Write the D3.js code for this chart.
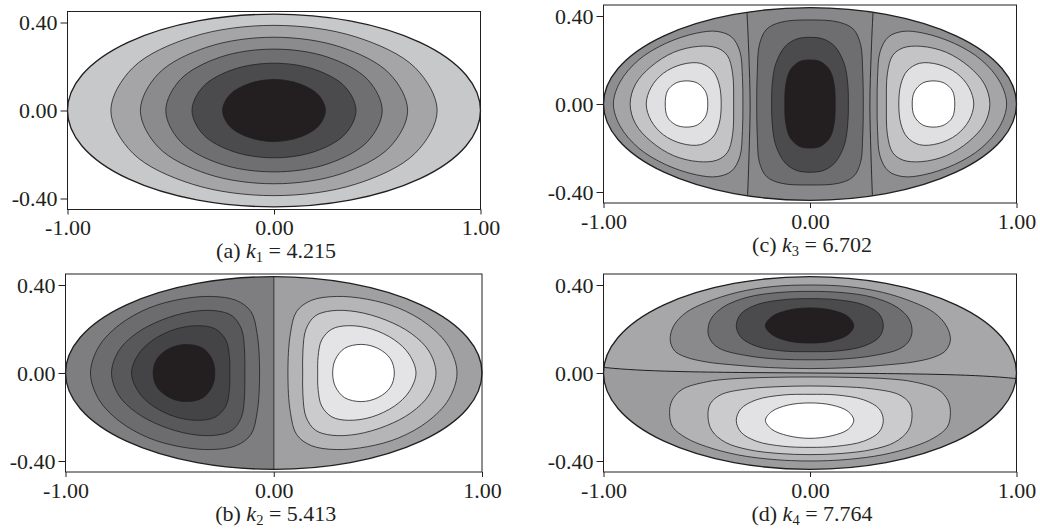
<!DOCTYPE html>
<html>
<head>
<meta charset="utf-8">
<script src="https://cdn.jsdelivr.net/npm/d3@7"></script>
<style>
body { margin: 0; background: #fff; }
text { font-family: "Liberation Serif", "Times New Roman", serif; fill: #231f20; }
</style>
</head>
<body>
<svg id="chart" width="1040" height="532"></svg>
<script>
// ---- data (x, y in plot units) ----
var xTicks = [-1, 0, 1];
var xTickLabels = ["-1.00", "0.00", "1.00"];
var yTicks = [-0.4, 0, 0.4];
var yTickLabels = ["-0.40", "0.00", "0.40"];
var boundaryAxes = [1.0, 0.438];

var captionLetters = ["a", "b", "c", "d"];
var kIndex = ["1", "2", "3", "4"];
var kValues = ["4.215", "5.413", "6.702", "7.764"];

// (a) nested contours, outer -> inner
var aContours = [
  [[-0.79,0],[-0.684,0.194],[-0.395,0.335],[0,0.387],[0.395,0.335],[0.684,0.194],[0.79,0],[0.684,-0.194],[0.395,-0.335],[0,-0.387],[-0.395,-0.335],[-0.684,-0.194]],
  [[-0.647,0],[-0.56,0.167],[-0.324,0.288],[0,0.333],[0.324,0.288],[0.56,0.167],[0.647,0],[0.56,-0.167],[0.324,-0.288],[0,-0.333],[-0.324,-0.288],[-0.56,-0.167]],
  [[-0.524,0],[-0.454,0.14],[-0.262,0.242],[0,0.279],[0.262,0.242],[0.454,0.14],[0.524,0],[0.454,-0.14],[0.262,-0.242],[0,-0.279],[-0.262,-0.242],[-0.454,-0.14]],
  [[-0.397,0],[-0.344,0.108],[-0.199,0.186],[0,0.215],[0.199,0.186],[0.344,0.108],[0.397,0],[0.344,-0.108],[0.199,-0.186],[0,-0.215],[-0.199,-0.186],[-0.344,-0.108]],
  [[-0.249,0],[-0.216,0.07],[-0.125,0.121],[0,0.141],[0.125,0.121],[0.216,0.07],[0.249,0],[0.216,-0.07],[0.125,-0.121],[0,-0.141],[-0.125,-0.121],[-0.216,-0.07]]
];
var aFills = ["#c7c8ca", "#a5a5a7", "#8b8b8d", "#6f6f71", "#4b4b4d", "#231f20"];

// (b) left (dark) lobe; the right (light) lobe is its mirror
var bLobe = [
  [[-0.88,0],[-0.84,0.12],[-0.74,0.22],[-0.6,0.295],[-0.45,0.335],[-0.3,0.348],[-0.18,0.33],[-0.11,0.28],[-0.08,0.18],[-0.068,0],
   [-0.08,-0.18],[-0.11,-0.28],[-0.18,-0.33],[-0.3,-0.348],[-0.45,-0.335],[-0.6,-0.295],[-0.74,-0.22],[-0.84,-0.12]],
  [[-0.779,0],[-0.745,0.1],[-0.66,0.18],[-0.54,0.24],[-0.4,0.278],[-0.28,0.283],[-0.2,0.26],[-0.155,0.2],[-0.14,0.1],[-0.139,0],
   [-0.14,-0.1],[-0.155,-0.2],[-0.2,-0.26],[-0.28,-0.283],[-0.4,-0.278],[-0.54,-0.24],[-0.66,-0.18],[-0.745,-0.1]],
  [[-0.683,0],[-0.65,0.085],[-0.58,0.15],[-0.47,0.2],[-0.36,0.215],[-0.28,0.2],[-0.23,0.15],[-0.213,0.075],[-0.211,0],
   [-0.213,-0.075],[-0.23,-0.15],[-0.28,-0.2],[-0.36,-0.215],[-0.47,-0.2],[-0.58,-0.15],[-0.65,-0.085]],
  [[-0.579,0],[-0.56,0.065],[-0.5,0.112],[-0.42,0.13],[-0.34,0.112],[-0.295,0.06],[-0.283,0],
   [-0.295,-0.06],[-0.34,-0.112],[-0.42,-0.13],[-0.5,-0.112],[-0.56,-0.065]]
];
var bZero = [[0, 0.47], [0, -0.47]];
var bFillsDark = ["#7e7e80", "#6c6c6e", "#58585a", "#444446", "#231f20"];
var bFillsLight = ["#a0a0a2", "#b5b5b7", "#cbcbcd", "#e4e4e6", "#ffffff"];

// (c) left (light) lobe, mirrored for the right one; centre (dark) strip
var cLobe = [
  [[-0.952,0],[-0.92,0.1],[-0.83,0.2],[-0.7,0.275],[-0.55,0.322],[-0.45,0.33],[-0.38,0.305],[-0.34,0.24],[-0.327,0.12],[-0.325,0],
   [-0.327,-0.12],[-0.34,-0.24],[-0.38,-0.305],[-0.45,-0.33],[-0.55,-0.322],[-0.7,-0.275],[-0.83,-0.2],[-0.92,-0.1]],
  [[-0.871,0],[-0.845,0.09],[-0.77,0.17],[-0.66,0.235],[-0.54,0.262],[-0.45,0.255],[-0.4,0.22],[-0.375,0.14],[-0.37,0],
   [-0.375,-0.14],[-0.4,-0.22],[-0.45,-0.255],[-0.54,-0.262],[-0.66,-0.235],[-0.77,-0.17],[-0.845,-0.09]],
  [[-0.793,0],[-0.77,0.075],[-0.71,0.14],[-0.62,0.18],[-0.53,0.185],[-0.47,0.15],[-0.44,0.09],[-0.43,0],
   [-0.44,-0.09],[-0.47,-0.15],[-0.53,-0.185],[-0.62,-0.18],[-0.71,-0.14],[-0.77,-0.075]],
  [[-0.701,0],[-0.69,0.06],[-0.65,0.095],[-0.6,0.105],[-0.545,0.095],[-0.505,0.055],[-0.495,0],
   [-0.505,-0.055],[-0.545,-0.095],[-0.6,-0.105],[-0.65,-0.095],[-0.69,-0.06]]
];
var cCentre = [
  [[-0.258,0],[-0.255,0.15],[-0.245,0.27],[-0.21,0.34],[-0.14,0.372],[0,0.382],[0.14,0.372],[0.21,0.34],[0.245,0.27],[0.255,0.15],[0.258,0],
   [0.255,-0.15],[0.245,-0.265],[0.21,-0.33],[0.14,-0.36],[0,-0.368],[-0.14,-0.36],[-0.21,-0.33],[-0.245,-0.265],[-0.255,-0.15]],
  [[-0.186,0],[-0.182,0.1],[-0.165,0.185],[-0.12,0.262],[-0.065,0.295],[0,0.303],[0.065,0.295],[0.12,0.262],[0.165,0.185],[0.182,0.1],[0.186,0],
   [0.182,-0.1],[0.165,-0.19],[0.12,-0.268],[0.065,-0.302],[0,-0.31],[-0.065,-0.302],[-0.12,-0.268],[-0.165,-0.19],[-0.182,-0.1]],
  [[-0.122,0],[-0.117,0.09],[-0.095,0.155],[-0.05,0.193],[0,0.2],[0.05,0.193],[0.095,0.155],[0.117,0.09],[0.122,0],
   [0.117,-0.09],[0.095,-0.155],[0.05,-0.193],[0,-0.2],[-0.05,-0.193],[-0.095,-0.155],[-0.117,-0.09]]
];
var cZero = [[-0.31,0.47],[-0.305,0.41],[-0.296,0.22],[-0.29,0],[-0.295,-0.22],[-0.302,-0.41],[-0.305,-0.47]];
var cFillsLobe = ["#8e8e90", "#a5a5a7", "#c4c4c6", "#e0e0e2", "#ffffff"];
var cFillsCentre = ["#88888a", "#6e6e70", "#4b4b4d", "#231f20"];

// (d) upper (dark) and lower (light) halves
var dUpper = [
  [[-0.677,0.15],[-0.66,0.215],[-0.6,0.275],[-0.5,0.322],[-0.35,0.367],[-0.18,0.393],[0,0.4],[0.18,0.393],[0.35,0.367],[0.5,0.322],[0.6,0.275],[0.66,0.215],[0.68,0.15],
   [0.655,0.1],[0.6,0.072],[0.5,0.05],[0.386,0.038],[0.2,0.025],[0,0.02],[-0.2,0.025],[-0.386,0.038],[-0.5,0.05],[-0.6,0.072],[-0.655,0.1]],
  [[-0.494,0.185],[-0.48,0.245],[-0.42,0.3],[-0.3,0.345],[-0.15,0.366],[0,0.371],[0.15,0.366],[0.3,0.345],[0.42,0.3],[0.48,0.245],[0.494,0.185],
   [0.475,0.14],[0.43,0.108],[0.3,0.078],[0.15,0.063],[0,0.06],[-0.15,0.063],[-0.3,0.078],[-0.43,0.108],[-0.475,0.14]],
  [[-0.357,0.215],[-0.335,0.268],[-0.26,0.31],[-0.13,0.333],[0,0.338],[0.13,0.333],[0.26,0.31],[0.335,0.268],[0.355,0.215],
   [0.335,0.163],[0.26,0.122],[0.13,0.1],[0,0.097],[-0.13,0.1],[-0.26,0.122],[-0.335,0.163]],
  [[-0.216,0.215],[-0.185,0.256],[-0.107,0.285],[0,0.296],[0.107,0.285],[0.185,0.256],[0.212,0.215],
   [0.185,0.175],[0.107,0.146],[0,0.136],[-0.107,0.146],[-0.185,0.175]]
];
var dLower = [
  [[-0.68,-0.18],[-0.668,-0.125],[-0.62,-0.075],[-0.5,-0.04],[-0.386,-0.027],[-0.2,-0.02],[0,-0.018],[0.2,-0.02],[0.386,-0.027],[0.5,-0.04],[0.62,-0.075],[0.668,-0.125],[0.68,-0.18],
   [0.665,-0.245],[0.6,-0.295],[0.5,-0.335],[0.35,-0.372],[0.18,-0.393],[0,-0.4],[-0.18,-0.393],[-0.35,-0.372],[-0.5,-0.335],[-0.6,-0.295],[-0.665,-0.245]],
  [[-0.494,-0.2],[-0.483,-0.14],[-0.43,-0.098],[-0.3,-0.072],[-0.15,-0.062],[0,-0.059],[0.15,-0.062],[0.3,-0.072],[0.43,-0.098],[0.483,-0.14],[0.494,-0.2],
   [0.475,-0.262],[0.41,-0.315],[0.3,-0.348],[0.15,-0.366],[0,-0.371],[-0.15,-0.366],[-0.3,-0.348],[-0.41,-0.315],[-0.475,-0.262]],
  [[-0.357,-0.215],[-0.335,-0.163],[-0.26,-0.122],[-0.13,-0.1],[0,-0.097],[0.13,-0.1],[0.26,-0.122],[0.335,-0.163],[0.355,-0.215],
   [0.335,-0.268],[0.26,-0.31],[0.13,-0.333],[0,-0.338],[-0.13,-0.333],[-0.26,-0.31],[-0.335,-0.268]],
  [[-0.216,-0.215],[-0.185,-0.175],[-0.107,-0.146],[0,-0.136],[0.107,-0.146],[0.185,-0.175],[0.212,-0.215],
   [0.185,-0.256],[0.107,-0.285],[0,-0.297],[-0.107,-0.285],[-0.185,-0.256]]
];
var dZero = [[-1.02,0.028],[-0.95,0.021],[-0.8,0.012],[-0.6,0.006],[-0.3,0.002],[0,0],[0.3,-0.002],[0.6,-0.006],[0.8,-0.012],[0.95,-0.021],[1.02,-0.028]];
var dFillsUpper = ["#a7a7a9", "#8a8a8c", "#6e6e70", "#4b4b4d", "#231f20"];
var dFillsLower = ["#9c9c9e", "#b3b3b5", "#cbcbcd", "#e2e2e4", "#ffffff"];

// ---- layout: [left, right, top, bottom] of each plot frame ----
var frameA = [67.5, 480.5, 11.5, 209.5];
var frameB = [65.5, 482, 274, 472];
var frameC = [603.5, 1016.5, 5, 203];
var frameD = [603.5, 1016.5, 274, 472];

var ink = "#231f20";
var fontSize = 22;
var svg = d3.select("#chart");
var defs = svg.append("defs");

function setupPanel(frame, id) {
  var x = d3.scaleLinear().domain([-1, 1]).range([frame[0], frame[1]]);
  var y = d3.scaleLinear().domain([-0.45, 0.45]).range([frame[3], frame[2]]);
  var g = svg.append("g");
  defs.append("clipPath").attr("id", "clip-" + id)
    .append("ellipse")
    .attr("cx", x(0)).attr("cy", y(0))
    .attr("rx", x(boundaryAxes[0]) - x(0))
    .attr("ry", y(0) - y(boundaryAxes[1]));
  var body = g.append("g").attr("clip-path", "url(#clip-" + id + ")");
  return {x: x, y: y, g: g, body: body, frame: frame};
}

function fillBackground(p, color) {
  p.body.append("rect")
    .attr("x", p.x(-1.05)).attr("y", p.y(0.5))
    .attr("width", p.x(1.05) - p.x(-1.05))
    .attr("height", p.y(-0.5) - p.y(0.5))
    .attr("fill", color);
}

function drawContours(p, list, fills, mirror) {
  var line = d3.line()
    .x(function (d) { return p.x(mirror ? -d[0] : d[0]); })
    .y(function (d) { return p.y(d[1]); })
    .curve(d3.curveCatmullRomClosed.alpha(0.5));
  list.forEach(function (pts, i) {
    p.body.append("path")
      .datum(pts)
      .attr("d", line)
      .attr("fill", fills[i + 1])
      .attr("stroke", ink)
      .attr("stroke-width", 0.8);
  });
}

function drawOpenLine(p, pts, mirror, color, width) {
  var line = d3.line()
    .x(function (d) { return p.x(mirror ? -d[0] : d[0]); })
    .y(function (d) { return p.y(d[1]); })
    .curve(d3.curveCatmullRom.alpha(0.5));
  p.body.append("path").datum(pts).attr("d", line)
    .attr("fill", "none").attr("stroke", color).attr("stroke-width", width);
}

function styleAxis(sel) {
  sel.select(".domain").remove();
  sel.attr("font-family", "'Liberation Serif', 'Times New Roman', serif").attr("font-size", fontSize);
  sel.selectAll("line").attr("stroke", ink);
  sel.selectAll("text").attr("fill", ink);
}

function finishPanel(p, idx) {
  var f = p.frame;
  p.g.append("ellipse")
    .attr("cx", p.x(0)).attr("cy", p.y(0))
    .attr("rx", p.x(boundaryAxes[0]) - p.x(0))
    .attr("ry", p.y(0) - p.y(boundaryAxes[1]))
    .attr("fill", "none").attr("stroke", ink).attr("stroke-width", 1.3);

  p.g.append("rect")
    .attr("x", f[0]).attr("y", f[2])
    .attr("width", f[1] - f[0]).attr("height", f[3] - f[2])
    .attr("fill", "none").attr("stroke", ink).attr("stroke-width", 1);

  p.g.append("g")
    .attr("transform", "translate(0," + f[3] + ")")
    .call(d3.axisBottom(p.x).tickValues(xTicks)
      .tickFormat(function (d, i) { return xTickLabels[i]; })
      .tickSize(5).tickPadding(5))
    .call(styleAxis);

  p.g.append("g")
    .attr("transform", "translate(" + f[0] + ",0)")
    .call(d3.axisLeft(p.y).tickValues(yTicks)
      .tickFormat(function (d, i) { return yTickLabels[i]; })
      .tickSize(7).tickPadding(3))
    .call(styleAxis);

  var cap = p.g.append("text")
    .attr("x", (f[0] + f[1]) / 2 + 2)
    .attr("y", f[3] + 48.5)
    .attr("text-anchor", "middle")
    .attr("font-size", fontSize);
  cap.append("tspan").text("(" + captionLetters[idx] + ") ");
  cap.append("tspan").attr("font-style", "italic").text("k");
  cap.append("tspan").attr("font-size", 14.5).attr("dy", 4).text(kIndex[idx]);
  cap.append("tspan").attr("dy", -4).text(" = " + kValues[idx]);
}

// (a)
var pA = setupPanel(frameA, "a");
fillBackground(pA, aFills[0]);
drawContours(pA, aContours, aFills, false);
finishPanel(pA, 0);

// (b)
var pB = setupPanel(frameB, "b");
fillBackground(pB, bFillsLight[0]);
pB.body.append("path").datum(bZero)
  .attr("d", d3.area()
    .y(function (d) { return pB.y(d[1]); })
    .x0(pB.x(-1.05))
    .x1(function (d) { return pB.x(d[0]); }))
  .attr("fill", bFillsDark[0]);
drawContours(pB, bLobe, bFillsDark, false);
drawContours(pB, bLobe, bFillsLight, true);
drawOpenLine(pB, bZero, false, "#4d4d4f", 1.4);
finishPanel(pB, 1);

// (c)
var pC = setupPanel(frameC, "c");
fillBackground(pC, cFillsLobe[0]);
pC.body.append("path").datum(cZero)
  .attr("d", d3.area()
    .curve(d3.curveCatmullRom.alpha(0.5))
    .y(function (d) { return pC.y(d[1]); })
    .x0(function (d) { return pC.x(d[0]); })
    .x1(function (d) { return pC.x(-d[0]); }))
  .attr("fill", cFillsCentre[0]);
drawContours(pC, cLobe, cFillsLobe, false);
drawContours(pC, cLobe, cFillsLobe, true);
drawContours(pC, cCentre, cFillsCentre, false);
drawOpenLine(pC, cZero, false, ink, 0.9);
drawOpenLine(pC, cZero, true, ink, 0.9);
finishPanel(pC, 2);

// (d)
var pD = setupPanel(frameD, "d");
fillBackground(pD, dFillsLower[0]);
pD.body.append("path").datum(dZero)
  .attr("d", d3.area()
    .curve(d3.curveCatmullRom.alpha(0.5))
    .x(function (d) { return pD.x(d[0]); })
    .y0(function (d) { return pD.y(d[1]); })
    .y1(pD.y(0.5)))
  .attr("fill", dFillsUpper[0]);
drawContours(pD, dUpper, dFillsUpper, false);
drawContours(pD, dLower, dFillsLower, false);
drawOpenLine(pD, dZero, false, ink, 1);
finishPanel(pD, 3);
</script>
</body>
</html>
